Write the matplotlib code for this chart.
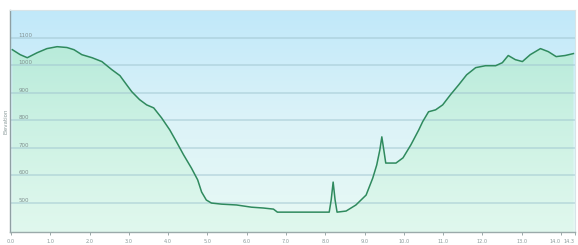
import numpy as np
import matplotlib
matplotlib.use("Agg")
import matplotlib.pyplot as plt
from matplotlib.colors import LinearSegmentedColormap

# distance (km) and elevation (m)
distance = [0.03, 0.23, 0.41, 0.66, 0.91, 1.17, 1.42, 1.60, 1.80, 2.06, 2.31, 2.56, 2.77, 2.94,
            3.07, 3.27, 3.45, 3.63, 3.83, 4.04, 4.21, 4.39, 4.59, 4.75, 4.85, 4.97, 5.10, 5.36,
            5.74, 6.12, 6.42, 6.68, 6.78, 7.13, 7.64, 8.10, 8.15, 8.20, 8.25, 8.30, 8.53, 8.78,
            9.04, 9.21, 9.31, 9.39, 9.44, 9.49, 9.54, 9.80, 9.98, 10.18, 10.38, 10.48, 10.63,
            10.81, 10.99, 11.19, 11.40, 11.60, 11.83, 12.08, 12.34, 12.51, 12.66, 12.84, 13.02,
            13.22, 13.48, 13.68, 13.88, 14.11, 14.32]
elevation = [1056, 1038, 1027, 1045, 1060, 1067, 1064, 1056, 1038, 1027, 1013, 984, 962,
             929, 904, 875, 856, 845, 809, 765, 722, 675, 627, 584, 540, 511, 500, 496, 493,
             485, 482, 478, 467, 467, 467, 467, 511, 576, 511, 467, 471, 493, 529, 591, 638,
             693, 740, 693, 645, 645, 664, 711, 765, 795, 831, 838, 856, 893, 929, 965, 991,
             998, 998, 1009, 1035, 1020, 1013, 1038, 1060, 1049, 1031, 1035, 1042]

xticks = [0, 1, 2, 3, 4, 5, 6, 7, 8, 9, 10, 11, 12, 13, 14, 14.36]
xticklabels = ["0.0", "1.0", "2.0", "3.0", "4.0", "5.0", "6.0", "7.0", "8.0", "9.0",
               "10.0", "11.0", "12.0", "13.0", "14.0", "14.3"]
yticks = [500, 600, 700, 800, 900, 1000, 1100]
yticklabels = ["500", "600", "700", "800", "900", "1000", "1100"]

fig = plt.figure(figsize=(5.78, 2.45), dpi=100)
ax = fig.add_axes([10/578, 13/245, 565/578, 222/245])
xmin, xmax = -0.03, 14.36
ymin, ymax = 395, 1200
ax.set_xlim(xmin, xmax)
ax.set_ylim(ymin, ymax)

# background gradient (light blue top -> pale at bottom)
bg = LinearSegmentedColormap.from_list("bg", ["#e8f9f4", "#dcf3f8", "#c0e8fa"])
grad = np.linspace(0, 1, 256).reshape(-1, 1)
ax.imshow(grad, extent=[xmin, xmax, ymin, ymax], origin="lower", aspect="auto",
          cmap=bg, zorder=0)

# gradient fill under the profile
fg = LinearSegmentedColormap.from_list("fg", ["#e0f8ee", "#caf1e1", "#aee8d2"])
im = ax.imshow(grad, extent=[xmin, xmax, ymin, ymax], origin="lower", aspect="auto",
               cmap=fg, zorder=1, alpha=0.9)
poly = ax.fill_between(distance, elevation, ymin, color="none", lw=0)
path = poly.get_paths()[0]
im.set_clip_path(path, transform=ax.transData)

# gridlines
for yv in yticks:
    ax.axhline(yv, color="#9fc4cf", lw=1.3, alpha=0.5, zorder=2)

ax.plot(distance, elevation, color="#2f8a5e", lw=1.1, zorder=3)

ax.set_xticks(xticks)
ax.set_xticklabels(xticklabels)
ax.set_yticks(yticks)
ax.set_yticklabels(yticklabels, ha="left", va="bottom")
ax.tick_params(axis="x", labelsize=3.6, colors="#8a9a9a", length=2, width=0.6, pad=3)
ax.tick_params(axis="y", labelsize=4, colors="#7f8f8f", length=0, pad=-6)
xl = ax.get_xticklabels()
xl[-1].set_horizontalalignment("right")
xl[-2].set_horizontalalignment("right")
ax.set_ylabel("Elevation", fontsize=4, color="#8a9a9a", labelpad=1)

for side in ["top", "right"]:
    ax.spines[side].set_color("#d8e4e8")
    ax.spines[side].set_linewidth(0.8)
ax.spines["left"].set_color("#8f9fa3")
ax.spines["bottom"].set_color("#9aaaaa")
ax.spines["left"].set_linewidth(1.0)
ax.spines["bottom"].set_linewidth(1.0)

fig.savefig("out.png", dpi=100)
